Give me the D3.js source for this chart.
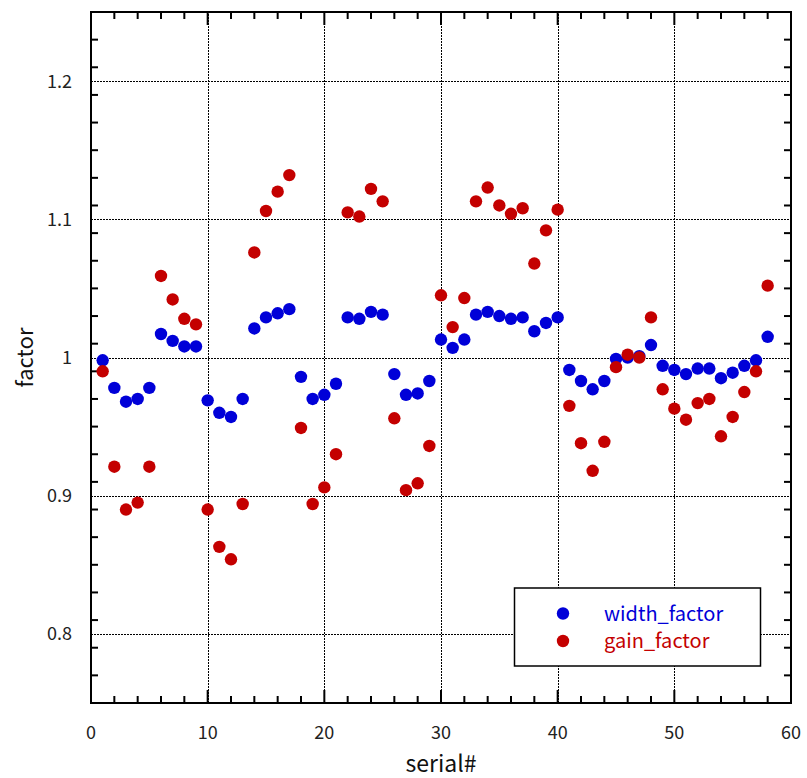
<!DOCTYPE html>
<html>
<head>
<meta charset="utf-8">
<script src="https://cdn.jsdelivr.net/npm/d3@7"></script>
<style>
  html, body { margin: 0; padding: 0; background: #fff; }
  svg text { font-family: "Noto Sans CJK JP", "Noto Sans", sans-serif; }
</style>
</head>
<body>
<svg id="chart" width="807" height="778"></svg>
<script>
// serial numbers 1..58
const serials = [
  1, 2, 3, 4, 5, 6, 7, 8, 9, 10, 11, 12, 13, 14, 15, 16, 17, 18, 19, 20,
  21, 22, 23, 24, 25, 26, 27, 28, 29, 30, 31, 32, 33, 34, 35, 36, 37, 38, 39, 40,
  41, 42, 43, 44, 45, 46, 47, 48, 49, 50, 51, 52, 53, 54, 55, 56, 57, 58
];

const widthFactor = [
  0.998, 0.978, 0.968, 0.970, 0.978, 1.017, 1.012, 1.008, 1.008, 0.969,
  0.960, 0.957, 0.970, 1.021, 1.029, 1.032, 1.035, 0.986, 0.970, 0.973,
  0.981, 1.029, 1.028, 1.033, 1.031, 0.988, 0.973, 0.974, 0.983, 1.013,
  1.007, 1.013, 1.031, 1.033, 1.030, 1.028, 1.029, 1.019, 1.025, 1.029,
  0.991, 0.983, 0.977, 0.983, 0.999, 1.000, 1.001, 1.009, 0.994, 0.991,
  0.988, 0.992, 0.992, 0.985, 0.989, 0.994, 0.998, 1.015
];

const gainFactor = [
  0.990, 0.921, 0.890, 0.895, 0.921, 1.059, 1.042, 1.028, 1.024, 0.890,
  0.863, 0.854, 0.894, 1.076, 1.106, 1.120, 1.132, 0.949, 0.894, 0.906,
  0.930, 1.105, 1.102, 1.122, 1.113, 0.956, 0.904, 0.909, 0.936, 1.045,
  1.022, 1.043, 1.113, 1.123, 1.110, 1.104, 1.108, 1.068, 1.092, 1.107,
  0.965, 0.938, 0.918, 0.939, 0.993, 1.002, 1.000, 1.029, 0.977, 0.963,
  0.955, 0.967, 0.970, 0.943, 0.957, 0.975, 0.990, 1.052
];

const xTicks = [0, 10, 20, 30, 40, 50, 60];
const yTicks = [0.8, 0.9, 1.0, 1.1, 1.2];
const yTickLabels = ["0.8", "0.9", "1", "1.1", "1.2"];

const seriesNames = ["width_factor", "gain_factor"];
const seriesColors = ["#0000d8", "#c40000"];

const svg = d3.select("#chart");
const margin = { left: 91, right: 16, top: 12, bottom: 75 };
const W = 807, H = 778;
const x0 = margin.left, x1 = W - margin.right;
const y0 = H - margin.bottom, y1 = margin.top;

const x = d3.scaleLinear().domain([0, 60]).range([x0, x1]);
const y = d3.scaleLinear().domain([0.75, 1.25]).range([y0, y1]);

// dotted grid at major ticks
const grid = svg.append("g").attr("stroke", "#000").attr("stroke-width", 1)
  .attr("stroke-dasharray", "2,1");
grid.selectAll("line.gx").data(xTicks.slice(1, -1)).join("line")
  .attr("x1", d => Math.round(x(d)) + 0.5).attr("x2", d => Math.round(x(d)) + 0.5)
  .attr("y1", y0).attr("y2", y1);
grid.selectAll("line.gy").data(yTicks).join("line")
  .attr("y1", d => Math.round(y(d)) + 0.5).attr("y2", d => Math.round(y(d)) + 0.5)
  .attr("x1", x0).attr("x2", x1);

// inward ticks on all four sides
const tickG = svg.append("g").attr("stroke", "#000").attr("stroke-width", 2);
const xMinor = d3.range(0, 61, 2);
const yMinor = d3.range(0, 26).map(i => +(0.75 + i * 0.02).toFixed(2)).filter(v => v <= 1.25);
const isMajorX = v => v % 10 === 0;
const isMajorY = v => Math.abs(v * 10 - Math.round(v * 10)) < 1e-6;
xMinor.forEach(v => {
  const len = isMajorX(v) ? 13 : 7;
  tickG.append("line").attr("x1", x(v)).attr("x2", x(v)).attr("y1", y0).attr("y2", y0 - len);
  tickG.append("line").attr("x1", x(v)).attr("x2", x(v)).attr("y1", y1).attr("y2", y1 + len);
});
yMinor.forEach(v => {
  const len = isMajorY(v) ? 13 : 7;
  tickG.append("line").attr("y1", y(v)).attr("y2", y(v)).attr("x1", x0).attr("x2", x0 + len);
  tickG.append("line").attr("y1", y(v)).attr("y2", y(v)).attr("x1", x1).attr("x2", x1 - len);
});

// frame
svg.append("rect").attr("x", x0).attr("y", y1).attr("width", x1 - x0).attr("height", y0 - y1)
  .attr("fill", "none").attr("stroke", "#000").attr("stroke-width", 2);

// tick labels
svg.append("g").selectAll("text").data(xTicks).join("text")
  .attr("x", d => x(d)).attr("y", y0 + 36)
  .attr("text-anchor", "middle").attr("font-size", 18).attr("fill", "#222")
  .text(d => d);
svg.append("g").selectAll("text").data(yTicks).join("text")
  .attr("x", x0 - 19).attr("y", d => y(d) + 6.5)
  .attr("text-anchor", "end").attr("font-size", 18).attr("fill", "#222")
  .text((d, i) => yTickLabels[i]);

// axis titles
svg.append("text").attr("x", (x0 + x1) / 2).attr("y", 772)
  .attr("text-anchor", "middle").attr("font-size", 23).attr("fill", "#111").text("serial#");
svg.append("text").attr("transform", `translate(33,${(y0 + y1) / 2}) rotate(-90)`)
  .attr("text-anchor", "middle").attr("font-size", 22).attr("fill", "#111").text("factor");

// data points: width first, gain on top
const series = [widthFactor, gainFactor];
series.forEach((vals, si) => {
  svg.append("g").selectAll("circle").data(vals).join("circle")
    .attr("cx", (d, i) => x(serials[i]))
    .attr("cy", d => y(d))
    .attr("r", 6.2)
    .attr("fill", seriesColors[si]);
});

// legend
const lg = svg.append("g");
lg.append("rect").attr("x", 514.5).attr("y", 588).attr("width", 246).attr("height", 78)
  .attr("fill", "#fff").attr("stroke", "#000").attr("stroke-width", 1.5);
seriesNames.forEach((name, i) => {
  const cy = 613.5 + i * 27.5;
  lg.append("circle").attr("cx", 563).attr("cy", cy).attr("r", 6.2).attr("fill", seriesColors[i]);
  lg.append("text").attr("x", 604).attr("y", cy + 7).attr("font-size", 20)
    .attr("fill", seriesColors[i]).text(name);
});
</script>
</body>
</html>
